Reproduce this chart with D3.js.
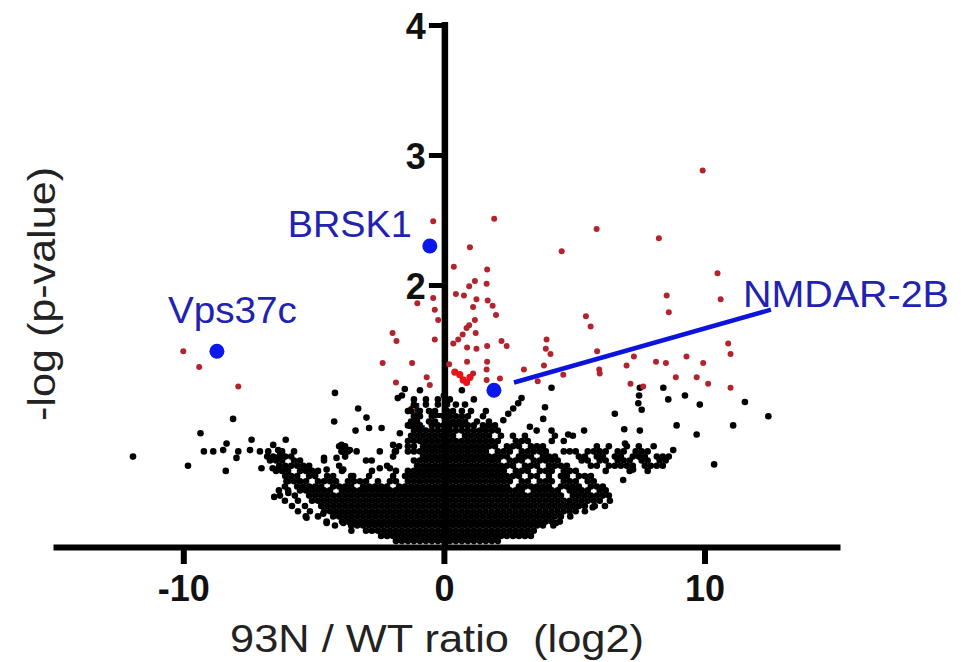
<!DOCTYPE html>
<html><head><meta charset="utf-8">
<script src="https://cdn.jsdelivr.net/npm/d3@7"></script>
<style>body{margin:0;background:#fff}svg{display:block}</style>
</head><body>
<script>
// ---------- data ----------
const xTicks = [-10, 0, 10];
const yTicks = [1, 2, 3, 4];
const xTitle = "93N / WT ratio  (log2)";
const yTitle = "-log (p-value)";

const highlightNames = ["BRSK1", "Vps37c", "NMDAR-2B"];
const highlightX = [-0.54, -8.71, 1.92];
const highlightY = [2.30, 1.49, 1.19];
const leaderLine = [[2.69, 1.25], [12.55, 1.81]];

const redPoints = [[-0.41,2.49],[1.93,2.51],[1.00,2.29],[4.52,2.26],[0.38,2.14],[1.66,2.12],[1.19,2.03],[0.97,1.99],[1.64,2.01],[0.46,1.93],[0.77,1.92],[1.25,1.89],[-0.41,1.90],[-1.02,1.86],[1.12,1.83],[1.68,1.88],[1.87,1.84],[-0.35,1.81],[2.00,1.77],[1.19,1.73],[-0.22,1.73],[0.97,1.69],[0.87,1.67],[1.22,1.63],[0.72,1.62],[-1.97,1.63],[-1.82,1.57],[-0.35,1.58],[0.55,1.58],[0.36,1.55],[0.89,1.52],[1.25,1.51],[1.66,1.53],[2.21,1.57],[2.41,1.53],[3.94,1.58],[3.91,1.51],[4.09,1.47],[-2.35,1.40],[-1.22,1.40],[0.20,1.39],[0.89,1.41],[1.66,1.41],[3.84,1.38],[3.07,1.35],[1.64,1.35],[1.12,1.32],[-0.66,1.29],[-1.84,1.25],[-0.54,1.23],[1.64,1.27],[2.15,1.28],[4.58,1.31],[5.86,2.43],[8.25,2.36],[10.50,2.09],[8.55,1.92],[10.62,1.89],[8.63,1.79],[5.45,1.76],[5.63,1.68],[10.91,1.55],[5.88,1.49],[11.00,1.47],[9.31,1.45],[7.29,1.45],[9.95,1.40],[8.14,1.41],[8.52,1.40],[7.01,1.38],[5.96,1.35],[5.98,1.32],[8.90,1.29],[9.70,1.29],[7.16,1.24],[7.65,1.22],[10.14,1.24],[11.00,1.21],[9.93,2.88],[3.60,1.26],[-10.00,1.49],[-9.39,1.37],[-7.89,1.22]];
const brightRedPoints = [[0.61,1.31],[0.74,1.27],[0.87,1.25],[0.42,1.33],[1.00,1.29]];

// black cloud, row by row: [y, [x, x, ...]]
const blackRows = [
[.03,[-1.84,-1.61,-1.38,-1.15,-.92,-.69,-.46,-.23,0,.23,.46,.69,.92,1.15,1.38,1.61,1.84,2.07]],
[.07,[-2.41,-2.18,-1.95,-1.72,-1.49,-1.26,-1.03,-.8,-.57,-.34,-.11,.12,.35,.58,.81,1.04,1.27,1.5,1.73,1.96,2.19,2.42,2.65,2.88,3.11,3.34]],
[.11,[-3.55,-2.99,-2.76,-2.53,-2.3,-2.07,-1.84,-1.61,-1.38,-1.15,-.92,-.69,-.46,-.23,0,.23,.46,.69,.92,1.15,1.38,1.61,1.84,2.07,2.3,2.53,2.76,2.99,3.22,3.45]],
[.15,[-4.18,-3.56,-3.33,-3.1,-2.87,-2.64,-2.41,-2.18,-1.95,-1.72,-1.49,-1.26,-1.03,-.8,-.57,-.34,-.11,.12,.35,.58,.81,1.04,1.27,1.5,1.73,1.96,2.19,2.42,2.65,2.88,3.11,3.34,3.57,3.8,4.2]],
[.18,[-4.5,-3.91,-3.68,-3.45,-3.22,-2.99,-2.76,-2.53,-2.3,-2.07,-1.84,-1.61,-1.38,-1.15,-.92,-.69,-.46,-.23,0,.23,.46,.69,.92,1.15,1.38,1.61,1.84,2.07,2.3,2.53,2.76,2.99,3.22,3.45,3.68,3.91,4.14,4.45]],
[.22,[-5.3,-4.83,-4.25,-4.02,-3.79,-3.56,-3.33,-3.1,-2.87,-2.64,-2.41,-2.18,-1.95,-1.72,-1.49,-1.26,-1.03,-.8,-.57,-.34,-.11,.12,.35,.58,.81,1.04,1.27,1.5,1.73,1.96,2.19,2.42,2.65,2.88,3.11,3.34,3.57,3.8,4.03,4.26,4.49,4.85]],
[.26,[-5.6,-5.14,-4.6,-4.37,-4.14,-3.91,-3.68,-3.45,-3.22,-2.99,-2.76,-2.53,-2.3,-2.07,-1.84,-1.61,-1.38,-1.15,-.92,-.69,-.46,-.23,0,.23,.46,.69,.92,1.15,1.38,1.61,1.84,2.07,2.3,2.53,2.76,2.99,3.22,3.45,3.68,3.91,4.14,4.37,4.6,4.83,5.06,5.41]],
[.30,[-5.83,-5.33,-4.71,-4.48,-4.25,-4.02,-3.79,-3.56,-3.33,-3.1,-2.87,-2.64,-2.41,-2.18,-1.95,-1.72,-1.49,-1.26,-1.03,-.8,-.57,-.34,-.11,.12,.35,.58,.81,1.04,1.27,1.5,1.73,1.96,2.19,2.42,2.65,2.88,3.11,3.34,3.57,3.8,4.03,4.26,4.49,4.72,4.95,5.18,5.41,5.79,6.18]],
[.34,[-6.1,-5.6,-5.06,-4.83,-4.6,-4.37,-4.14,-3.91,-3.68,-3.45,-3.22,-2.99,-2.76,-2.53,-2.3,-2.07,-1.84,-1.61,-1.38,-1.15,-.92,-.69,-.46,-.23,0,.23,.46,.69,.92,1.15,1.38,1.61,1.84,2.07,2.3,2.53,2.76,2.99,3.22,3.45,3.68,3.91,4.14,4.37,4.6,4.83,5.06,5.29,5.52,5.75,5.98,6.37]],
[.38,[-6.29,-5.72,-5.17,-4.94,-4.71,-4.48,-4.25,-4.02,-3.79,-3.56,-3.33,-3.1,-2.87,-2.64,-2.41,-2.18,-1.95,-1.72,-1.49,-1.26,-1.03,-.8,-.57,-.34,-.11,.12,.35,.58,.81,1.04,1.27,1.5,1.73,1.96,2.19,2.42,2.65,2.88,3.11,3.34,3.57,3.8,4.03,4.26,4.49,4.95,5.18,5.41,5.64,5.87,6.1,6.33]],
[.42,[-6.33,-5.98,-5.52,-5.29,-5.06,-4.83,-4.6,-4.37,-3.91,-3.68,-3.45,-3.22,-2.99,-2.76,-2.53,-2.3,-2.07,-1.84,-1.61,-1.38,-1.15,-.92,-.69,-.46,-.23,0,.23,.46,.69,.92,1.15,1.38,1.61,1.84,2.07,2.3,2.53,2.76,2.99,3.45,3.68,3.91,4.14,4.37,4.83,5.06,5.29,5.52,5.98,6.21]],
[.45,[-6.1,-5.63,-5.4,-5.17,-4.94,-4.71,-4.25,-4.02,-3.79,-3.56,-3.1,-2.87,-2.64,-2.41,-2.18,-1.72,-1.49,-1.26,-1.03,-.8,-.57,-.34,-.11,.12,.35,.58,.81,1.04,1.27,1.5,1.73,1.96,2.19,2.42,2.88,3.11,3.34,3.57,3.8,4.03,4.49,4.72,4.95,5.18,5.64,5.87,6.1]],
[.49,[-5.98,-5.75,-5.52,-5.29,-4.83,-4.6,-4.37,-4.14,-3.68,-3.45,-3.22,-2.99,-2.53,-2.07,-1.84,-1.38,-1.15,-.92,-.69,-.46,-.23,0,.23,.46,.69,.92,1.15,1.38,1.61,1.84,2.07,2.3,2.53,2.99,3.22,3.68,3.91,4.14,4.6,4.83,5.06,5.52,5.75]],
[.53,[-6.09,-5.86,-5.63,-5.17,-4.94,-4.48,-4.25,-3.56,-2.87,-1.95,-1.49,-1.26,-1.03,-.8,-.57,-.34,-.11,.12,.35,.58,.81,1.04,1.27,1.5,1.73,1.96,2.19,2.42,2.65,2.88,3.34,3.57,4.03,4.49,4.72,5.18,5.41,5.64]],
[.57,[-6.44,-6.21,-5.98,-5.52,-5.29,-5.06,-4.83,-3.91,-2.76,-1.84,-1.38,-1.15,-.92,-.69,-.46,-.23,0,.23,.46,.69,.92,1.15,1.38,1.61,1.84,2.07,2.3,2.76,2.99,3.22,3.68,3.91,4.14,4.6,4.83,5.06,6.21,7.13,7.82]],
[.61,[-6.32,-6.09,-5.86,-5.63,-5.4,-5.17,-4.02,-2.18,-1.03,-.8,-.57,-.34,-.11,.12,.35,.58,.81,1.04,1.27,1.5,1.73,1.96,2.19,2.42,2.65,3.11,3.34,3.57,4.03,4.26,4.49,4.72,5.64,5.87,6.33,6.56,6.79,7.02,7.25,7.71,7.94,8.17,8.4]],
[.65,[-6.67,-6.44,-6.21,-5.75,-5.52,-4.6,-2.99,-1.15,-.92,-.69,-.46,-.23,0,.23,.46,.69,.92,1.15,1.38,1.61,1.84,2.07,2.53,2.76,2.99,3.45,3.68,3.91,4.14,4.37,5.29,5.52,5.98,6.21,6.67,6.9,7.13,7.59,7.82,8.28,8.51]],
[.68,[-6.78,-6.55,-6.32,-6.09,-5.86,-3.79,-1.95,-.8,-.57,-.34,-.11,.12,.35,.58,.81,1.04,1.27,1.5,1.73,1.96,2.19,2.42,2.88,3.11,3.34,3.8,4.03,4.26,5.18,5.41,5.87,6.1,6.56,6.79,7.25,7.48,7.71,8.17,8.4,8.63]],
[.72,[-6.21,-5.75,-3.91,-3.68,-1.84,-1.38,-1.15,-.92,-.69,-.46,-.23,0,.23,.46,.69,.92,1.15,1.38,1.61,2.07,2.3,2.53,2.99,3.22,3.45,3.68,3.91,4.6,4.83,5.06,5.52,5.75,5.98,6.21,6.67,6.9,7.36,7.59,7.82]],
[.76,[-4.02,-3.79,-1.72,-1.38,-1.15,-.8,-.57,-.34,-.11,.12,.35,.58,.81,1.04,1.27,1.5,1.73,1.96,2.42,2.65,2.88,3.34,3.57,3.8,5.87,6.33,7.02,7.48,8.05]],
[.80,[-1.38,-1.15,-.92,-.69,-.46,-.23,0,.23,.46,.69,.92,1.15,1.38,1.61,1.84,2.07,2.76,2.99,3.22,4.14,4.6]],
[.84,[-1.26,-1.03,-.8,-.57,-.34,-.11,.12,.35,.81,1.04,1.27,1.5,1.73,2.19,2.65,3.11,4.26,4.95]],
[.88,[-1.15,-.92,-.69,-.46,-.23,0,.23,.46,.69,.92,1.15,1.38,1.61,1.84,2.07]],
[.92,[-1.38,-1.15,-.92,-.46,-.23,0,.23,.46,.69,.92,1.15,1.5,1.73,1.96]],
[.95,[-1.26,-1.03,-.57,-.34,.12,.35,.58,.81,1.27,1.73]],
[.99,[-1.15,-.92,-.46,0,.23,.46,.69,.92,1.5]],
[1.03,[-1.26,-.92,-.57,-.34,.12,.35,.69,1.04,1.61]],
[1.08,[-1.15,-.69,-.23,.12,.46,.81]],
[1.12,[-1.15,-.69,-.23,.23,1.15]],
[1.15,[-1.61,0]],
[1.19,[-.92,.69]]
];
const blackSparse = [[-11.93,.68],[-9.82,.61],[-9.34,.86],[-9.21,.72],[-8.85,.72],[-8.47,.73],[-8.34,.78],[-8.37,.57],[-8.09,.97],[-7.89,.72],[-7.96,.67],[-7.44,.73],[-7.38,.81],[-7.06,.72],[-6.74,.72],[-6.55,.77],[-6.36,.73],[-6.29,.69],[-6.07,.81],[-7.0,.59],[-6.57,.59],[-6.42,.58],[-6.51,.37],[-5.97,.40],[-6.04,.49],[-5.27,.21],[-4.63,.24],[-4.5,.17],[-3.86,.17],[-4.6,.67],[-3.93,.77],[-3.93,.72],[-4.12,.67],[-3.61,.73],[-3.35,.72],[-2.46,.72],[-1.95,.77],[-1.88,.72],[-4.5,.58],[-3.86,.58],[-3.48,.53],[-2.77,.65],[-2.46,.59],[-2.07,.59],[-4.18,1.17],[-3.29,1.05],[-2.97,.98],[-4.21,.95],[-3.39,.88],[-2.87,.90],[-2.39,.90],[-1.5,1.2],[-1.77,1.13],[-1.38,1.03],[-1.69,.86],
[4.13,1.21],[2.98,1.13],[2.85,1.09],[2.66,1.05],[2.47,1.01],[2.28,.96],[3.88,1.06],[3.81,.97],[6.56,1.01],[7.52,1.21],[7.49,1.15],[7.46,1.09],[7.59,1.04],[8.42,1.21],[8.61,1.12],[9.25,1.15],[9.82,1.08],[11.55,1.10],[12.45,.99],[11.10,.92],[9.70,.85],[8.93,.92],[7.52,.88],[6.92,.89],[5.38,.88],[4.13,.88],[4.77,.85],[3.30,.91],[3.56,.88],[6.95,.78],[8.80,.73],[10.37,.62],[7.26,.58],[6.88,.50],[5.71,.29],[4.30,.17]];

// ---------- drawing ----------
const W = 972, H = 662;
const FONT = "'Liberation Sans', Arial, Helvetica, sans-serif";
const svg = d3.select("body").append("svg").attr("width", W).attr("height", H);

const x = d3.scaleLinear().domain([-15, 15.2]).range([53, 840]);
const y = d3.scaleLinear().domain([0, 4]).range([545, 25]);

// axes
const xAxisY = y(0) + 2;
const gx = svg.append("g").attr("transform", `translate(0,${xAxisY})`)
  .call(d3.axisBottom(x).tickValues(xTicks).tickSize(17).tickSizeOuter(0).tickFormat(d3.format("d")));
gx.select(".domain").attr("stroke", "#000").attr("stroke-width", 6);
gx.selectAll(".tick line").attr("stroke", "#000").attr("stroke-width", 6);
gx.selectAll(".tick text").attr("y", 54).attr("dy", 0)
  .attr("font-family", FONT).attr("font-size", 36).attr("font-weight", "bold").attr("fill", "#111")
  .text(d => d < 0 ? "-" + Math.abs(d) : d);

const yAxisX = x(0) + 1;
const gy = svg.append("g").attr("transform", `translate(${yAxisX},0)`)
  .call(d3.axisLeft(y).tickValues(yTicks).tickSize(16).tickSizeOuter(0).tickFormat(d3.format("d")));
gy.select(".domain").remove();
gy.append("line").attr("x1", 0).attr("x2", 0).attr("y1", y(4) - 3).attr("y2", xAxisY + 3)
  .attr("stroke", "#000").attr("stroke-width", 6.5);
gy.selectAll(".tick line").attr("stroke", "#000").attr("stroke-width", 5);
gy.selectAll(".tick text").attr("x", -19).attr("dy", 13)
  .attr("font-family", FONT).attr("font-size", 36).attr("font-weight", "bold").attr("fill", "#111");

// titles
svg.append("text").attr("x", 437).attr("y", 652).attr("text-anchor", "middle")
  .attr("font-family", FONT).attr("font-size", 38).attr("fill", "#222")
  .style("white-space", "pre")
  .attr("textLength", 414).attr("lengthAdjust", "spacingAndGlyphs").text(xTitle);
svg.append("text").attr("transform", "translate(55,294) rotate(-90)").attr("text-anchor", "middle")
  .attr("font-family", FONT).attr("font-size", 38).attr("fill", "#222")
  .attr("textLength", 254).attr("lengthAdjust", "spacingAndGlyphs").text(yTitle);

// points
const blackPts = [];
blackRows.forEach(([yy, xs]) => xs.forEach(xx => blackPts.push([xx, yy])));
blackSparse.forEach(p => blackPts.push(p));

svg.append("g").selectAll("circle").data(blackPts).join("circle")
  .attr("cx", d => x(d[0])).attr("cy", d => y(d[1])).attr("r", 3.3).attr("fill", "#000");
svg.append("g").selectAll("circle").data(redPoints).join("circle")
  .attr("cx", d => x(d[0])).attr("cy", d => y(d[1])).attr("r", 3).attr("fill", "#b3232e");
svg.append("g").selectAll("circle").data(brightRedPoints).join("circle")
  .attr("cx", d => x(d[0])).attr("cy", d => y(d[1])).attr("r", 3.6).attr("fill", "#e8141c");

// leader line
svg.append("line")
  .attr("x1", x(leaderLine[0][0])).attr("y1", y(leaderLine[0][1]))
  .attr("x2", x(leaderLine[1][0])).attr("y2", y(leaderLine[1][1]))
  .attr("stroke", "#0a14dc").attr("stroke-width", 4.5);

// highlighted proteins
const hl = highlightNames.map((n, i) => ({name: n, x: highlightX[i], y: highlightY[i]}));
svg.append("g").selectAll("circle").data(hl).join("circle")
  .attr("cx", d => x(d.x)).attr("cy", d => y(d.y)).attr("r", 7.5).attr("fill", "#0a18ec");

const labelStyle = {
  "BRSK1":    {dx: -18, dy: -9,  anchor: "end",   len: 124, size: 36},
  "Vps37c":   {dx: -49, dy: -28, anchor: "start", len: 129, size: 36},
  "NMDAR-2B": {dx: 249, dy: -83, anchor: "start", len: 206, size: 37}
};
svg.append("g").selectAll("text").data(hl).join("text")
  .attr("x", d => x(d.x) + labelStyle[d.name].dx)
  .attr("y", d => y(d.y) + labelStyle[d.name].dy)
  .attr("text-anchor", d => labelStyle[d.name].anchor)
  .attr("font-family", FONT).attr("font-size", d => labelStyle[d.name].size)
  .attr("textLength", d => labelStyle[d.name].len).attr("lengthAdjust", "spacingAndGlyphs")
  .attr("fill", "#2222b0").text(d => d.name);
</script>
</body></html>
